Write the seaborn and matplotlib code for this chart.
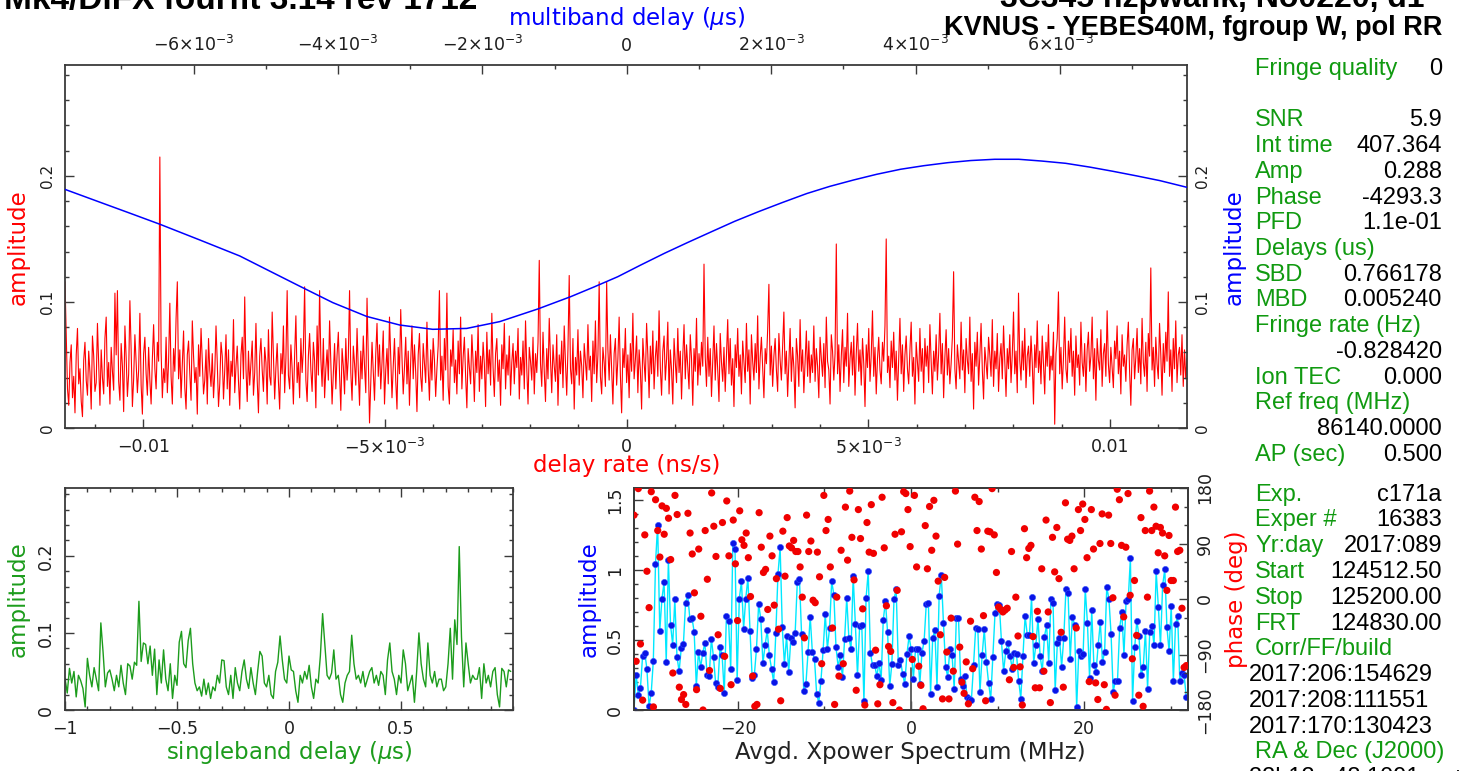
import numpy as np
import pandas as pd
import matplotlib
matplotlib.use("Agg")
import matplotlib.pyplot as plt
from matplotlib.ticker import MultipleLocator
import seaborn as sns

# ---------------- data ----------------
# delay-rate spectrum (red, top panel), evenly sampled over rate_lim (ns/s)
rate_lim = (-0.01162, 0.01159)
rate_amp = [
    .116, .072, .031, .018, .052, .066, .024, .041, .012, .058, .079, .035, .047, .021, .009, .054, .068, .038, .026, .061, .044, .015, .073, .057, .029, .036, .083, .049, .018, .062,
    .040, .027, .071, .088, .033, .052, .019, .064, .045, .030, .107, .058, .109, .037, .022, .067, .049, .013, .081, .056, .025, .043, .101, .062, .017, .039, .074, .052, .028, .046,
    .091, .034, .011, .059, .072, .043, .026, .064, .038, .019, .055, .082, .047, .031, .068, .053, .215, .061, .024, .047, .036, .072, .028, .053, .099, .041, .019, .063, .045, .087,
    .116, .039, .062, .024, .051, .077, .032, .015, .058, .069, .043, .022, .085, .057, .036, .048, .011, .066, .041, .079, .054, .027, .038, .062, .019, .071, .046, .033, .059, .024,
    .044, .081, .052, .017, .035, .068, .057, .023, .046, .074, .031, .062, .018, .053, .041, .086, .028, .049, .065, .037, .015, .058, .072, .039, .104, .047, .021, .061, .034, .052,
    .069, .026, .044, .083, .038, .012, .057, .071, .046, .029, .064, .052, .019, .078, .041, .034, .092, .056, .023, .048, .067, .037, .015, .059, .043, .081, .028, .055, .109, .042,
    .031, .066, .047, .019, .058, .089, .036, .052, .024, .071, .044, .063, .112, .038, .021, .057, .075, .046, .029, .068, .053, .016, .081, .042, .109, .055, .033, .071, .024, .047,
    .062, .038, .085, .053, .019, .044, .067, .031, .058, .076, .042, .014, .063, .049, .027, .071, .038, .056, .109, .044, .022, .065, .051, .034, .079, .046, .018, .061, .039, .073,
    .049, .028, .103, .056, .004, .037, .068, .045, .022, .059, .083, .041, .066, .031, .052, .077, .019, .046, .063, .035, .088, .057, .024, .049, .071, .038, .015, .064, .043, .094,
    .056, .027, .048, .072, .035, .061, .018, .053, .081, .039, .066, .044, .013, .058, .075, .041, .029, .067, .051, .036, .084, .047, .022, .062, .038, .071, .054, .025, .047, .065,
    .109, .038, .057, .022, .071, .046, .107, .033, .019, .062, .049, .078, .036, .054, .027, .069, .043, .088, .031, .056, .072, .041, .016, .063, .048, .035, .074, .052, .021, .061,
    .044, .082, .029, .057, .039, .068, .051, .017, .076, .043, .062, .034, .091, .048, .025, .059, .071, .037, .054, .018, .066, .047, .083, .031, .058, .042, .073, .026, .052, .067,
    .035, .061, .048, .079, .023, .056, .042, .069, .031, .085, .047, .019, .064, .053, .038, .072, .027, .059, .044, .068, .133, .051, .033, .076, .045, .021, .063, .039, .087, .054,
    .028, .066, .049, .037, .074, .018, .058, .043, .069, .032, .081, .052, .026, .063, .121, .047, .035, .071, .015, .056, .042, .078, .034, .061, .049, .024, .067, .053, .038, .082,
    .046, .057, .021, .069, .043, .085, .036, .058, .116, .041, .027, .064, .052, .033, .116, .062, .038, .074, .047, .019, .059, .071, .034, .055, .088, .042, .012, .063, .048, .079,
    .036, .058, .024, .067, .045, .091, .039, .054, .073, .028, .062, .046, .015, .071, .052, .037, .083, .058, .024, .065, .043, .077, .031, .056, .069, .041, .093, .048, .026, .061,
    .073, .038, .055, .084, .027, .062, .046, .019, .071, .052, .036, .079, .044, .061, .023, .057, .082, .039, .066, .048, .031, .074, .055, .018, .063, .045, .087, .034, .059, .042,
    .068, .049, .130, .056, .033, .072, .041, .063, .025, .054, .081, .038, .067, .046, .021, .075, .052, .037, .064, .029, .058, .086, .043, .071, .034, .055, .017, .066, .048, .079,
    .041, .058, .027, .069, .052, .036, .083, .045, .062, .019, .074, .053, .038, .067, .044, .089, .031, .056, .072, .047, .024, .063, .051, .078, .114, .042, .065, .033, .057, .071,
    .046, .029, .075, .054, .038, .066, .092, .043, .061, .025, .052, .079, .037, .064, .048, .016, .071, .057, .033, .086, .045, .062, .028, .053, .077, .041, .069, .036, .058, .044,
    .081, .037, .063, .049, .024, .072, .055, .041, .067, .032, .088, .053, .046, .019, .074, .061, .038, .059, .146, .043, .066, .029, .057, .078, .036, .064, .049, .091, .033, .055,
    .068, .042, .073, .026, .059, .083, .045, .062, .034, .071, .051, .017, .066, .048, .079, .037, .058, .093, .041, .064, .027, .055, .072, .046, .035, .068, .053, .081, .150, .044,
    .057, .032, .069, .048, .076, .038, .061, .022, .054, .087, .043, .066, .029, .058, .073, .047, .035, .062, .084, .041, .056, .019, .068, .052, .037, .079, .045, .063, .028, .071,
    .049, .065, .036, .082, .053, .027, .061, .045, .074, .038, .059, .091, .043, .067, .024, .056, .078, .042, .063, .035, .051, .072, .124, .047, .031, .066, .053, .039, .084, .046,
    .062, .028, .071, .054, .043, .088, .037, .059, .015, .068, .049, .076, .034, .057, .083, .046, .023, .064, .052, .039, .072, .058, .041, .086, .033, .061, .047, .075, .029, .055,
    .067, .039, .081, .052, .025, .063, .047, .074, .036, .058, .092, .043, .061, .028, .107, .054, .038, .069, .046, .079, .032, .057, .065, .041, .073, .052, .019, .066, .048, .085,
    .044, .061, .035, .073, .051, .027, .068, .049, .082, .038, .057, .046, .076, .003, .059, .071, .108, .043, .064, .031, .055, .088, .047, .036, .069, .052, .079, .041, .061, .026,
    .073, .048, .058, .034, .084, .052, .041, .067, .029, .062, .076, .045, .057, .088, .039, .063, .022, .071, .054, .046, .078, .033, .059, .067, .041, .093, .051, .036, .064, .048,
    .032, .069, .055, .081, .043, .061, .027, .074, .049, .058, .037, .066, .084, .045, .018, .062, .071, .039, .056, .079, .044, .063, .035, .087, .052, .041, .068, .029, .075, .057,
    .127, .046, .064, .033, .072, .051, .039, .083, .058, .026, .067, .044, .076, .053, .108, .041, .062, .029, .071, .047, .085, .036, .058, .064, .042, .074, .033, .062, .039, .055,
]

# multiband delay function (blue, top panel): delay in microseconds, amplitude
mbd_lim = (-0.00778, 0.00776)
mbd_us = [-0.007784, -0.007299, -0.006884, -0.006468, -0.005914, -0.005360, -0.004945,
          -0.004529, -0.004072, -0.003601, -0.003144, -0.002687, -0.002216, -0.001759,
          -0.001233, -0.000776, -0.000457, -0.000125, 0.000194, 0.000526, 0.000845,
          0.001177, 0.001496, 0.001828, 0.002161, 0.002493, 0.002812, 0.003144,
          0.003463, 0.003795, 0.004114, 0.004446, 0.004765, 0.005097, 0.005429,
          0.005748, 0.006080, 0.006413, 0.006731, 0.007064, 0.007382, 0.007756]
mbd_amp = [0.1894, 0.1792, 0.1705, 0.1617, 0.1492, 0.1365, 0.1245,
           0.1125, 0.0995, 0.0885, 0.0817, 0.0783, 0.0790, 0.0844,
           0.0944, 0.1042, 0.1118, 0.1200, 0.1293, 0.1387, 0.1472,
           0.1558, 0.1640, 0.1717, 0.1790, 0.1860, 0.1917, 0.1968,
           0.2013, 0.2053, 0.2081, 0.2105, 0.2122, 0.2132, 0.2132,
           0.2118, 0.2100, 0.2070, 0.2037, 0.2000, 0.1963, 0.1910]

# singleband delay function (green), evenly sampled over sbd_lim (microseconds)
sbd_lim = (-1.0, 0.99)
sbd_amp = [
    .041, .022, .054, .035, .050, .017, .045, .038, .028, .004, .067, .045, .030, .055, .040, .025, .113, .075, .030, .048,
    .052, .040, .025, .045, .030, .058, .035, .020, .060, .057, .040, .062, .058, .141, .063, .087, .085, .060, .083, .045,
    .079, .020, .065, .035, .078, .040, .025, .060, .015, .045, .032, .088, .102, .060, .055, .090, .106, .060, .035, .025,
    .030, .018, .040, .020, .035, .015, .030, .025, .045, .035, .065, .064, .030, .020, .045, .015, .055, .035, .025, .050,
    .065, .040, .028, .055, .035, .020, .050, .076, .070, .035, .030, .045, .020, .015, .050, .062, .096, .065, .040, .035,
    .070, .052, .050, .025, .010, .045, .035, .050, .040, .058, .030, .015, .040, .035, .070, .125, .085, .045, .040, .048,
    .078, .040, .045, .020, .010, .035, .045, .050, .097, .060, .040, .045, .035, .050, .030, .040, .050, .055, .035, .045,
    .032, .050, .045, .020, .065, .087, .050, .040, .020, .045, .035, .078, .060, .025, .035, .045, .010, .050, .100, .060,
    .040, .030, .087, .045, .035, .050, .030, .040, .040, .025, .030, .060, .106, .040, .117, .085, .212, .095, .030, .087,
    .060, .035, .045, .040, .040, .055, .015, .060, .035, .045, .030, .050, .055, .020, .004, .054, .050, .030, .052, .050,
]

# averaged cross-power spectrum, evenly sampled over freq_lim (MHz)
freq_lim = (-32.0, 31.8)
xp_amp = [
    0.0, .252, .109, .157, .386, .41, .295, .029, .119, .352,
    1.045, 1.324, .566, .795, .914, .343, 1.069, .609, .467, .79,
    .381, .276, .443, .474, .767, .819, .652, .657, .557, .171,
    .414, .307, .41, .479, .252, .24, .51, .376, .19, .164,
    .448, .39, .124, .671, .638, .29, 1.195, 1.152, .214, .795,
    .919, .581, .795, .943, .562, .229, .248, .438, .757, .652,
    .333, .462, .569, .39, .295, .2, .55, .971, 1.162, .59,
    .329, .529, .271, .514, .486, .552, .914, .933, .543, .133,
    .186, .414, .667,
    .414, .362, .114, .052, .21, .426, .686, .438, .586, .919,
    .824, .45, .307, .39, .233, .505, .8, .514, .438, .955,
    .617, .248, .6, .605, .062, .8, .99, .41, .319, .324,
    .24, .338, .214, .643, .776, .557, .171, .331, .793, .862,
    .324, .36, .257, .186, .398, .526, .433, .224, .433, .433,
    .186, .41, .49, .755, .767, .117, .514, .571, .167, .817,
    .967, .624, .307, .238, .438, .395, .152, .657, .657, .224,
    .171, .24, .095, .076, .069, .319, .586, .581, .129, .39,
    .576, .343, .195, .076, .376, .69, .757, .752,
    .49, .276, .419, .481, .386, .295, .405, .4, .21, .081,
    .386, .671, .538, .533, .805, .338, .462, .652, .386, .276,
    .524, .605, .338, .79, .767, .14, .476, .514, .31, .514,
    .862, .833, .367, .667, .61, .019, .424, .386, .4, .862,
    .624, .229, .714, .324, .271, .462, .629, .343, .414, .876,
    .795, .543, .129, .21, .21, .586, .7, .395, .776, .79,
    1.086, .062, .448, .638, .529, .248, .31, .567, .152, .557,
    .6, .462, .99, .738, .462, .89, 1.005, .591, .419, .743,
    .205, .614, .671, .205, .262, .248, .095,
]
xp_phase = [
    136, -101, 179, -73, -164, 104, 45, -14, 174, -175,
    161, 111, 68, 151, 105, 147, 131, 64, -120, 168,
    137, -143, -163, -155, -171, 139, 107, 73, 10, -147,
    81, -28, -180, 111, 32, -116, 172, 118, 69, -58,
    -145, 124, -93, 159, 70, -139, 128, 57, -35, 143,
    96, 87, 107, 67, 4, -125, -174, -171, 140, 84,
    43, 48, -17, 102, 70, -10, 33, -49, -165, 110,
    37, 132, 86, 83, 95, 77, 77, 52, 3, -63,
    136, 77, 94, -2,
    -6, 76, 36, -105, 168, 111, 129, 52, -47, -171,
    3, -125, 79, -105, 149, 63, 175, 100, 31, -148,
    145, 98, -16, -172, 124, 76, 153, 74, -83, -170,
    -139, 165, 83, -11, -77, -85, -168, 105, 14, -180,
    109, 174, 171, 145, 85, -98, 168, 52, -109, -140,
    -178, 119, 49, 150, 79, 160, 102, 29, -58, -162,
    35, -86, -162, -31, -117, 175, 89, -78, -135, -153,
    -102, -170, -36, -113, 165, 111, 158, 81, -27, -165,
    110, 109, 179, 104, 43,
    -13, -17, -21, -18, -15, -131, 77, -111, 3, -60,
    -110, -172, 114, 67, 82, 87, -61, -144, -20, -144,
    49, -117, 128, -21, -168, 100, 44, 116, 33, -54,
    -143, 156, 97, 95, 102, 49, -47, 145, 111, 154,
    129, 67, -134, 145, 81, -136, -163, 90, 138, -139,
    -179, 136, 90, 2, -156, 178, 161, 87, -29, 84,
    171, 6, -97, 30, -59, -156, 132, -174, 111, 3,
    175, 111, 149, 118, 75, 116, 107, 70, 14, 103,
    30, 30, 149, 77, 79, -15, -111, -108,
]

# tick labels
rate_ticks = [-0.01, -0.005, 0.0, 0.005, 0.01]
rate_ticklabels = ['\u22120.01', r'$-5{\times}10^{-3}$', '0', r'$5{\times}10^{-3}$', '0.01']
mbd_ticks = [-0.006, -0.004, -0.002, 0.0, 0.002, 0.004, 0.006]
mbd_ticklabels = [r'$-6{\times}10^{-3}$', r'$-4{\times}10^{-3}$', r'$-2{\times}10^{-3}$', '0',
                  r'$2{\times}10^{-3}$', r'$4{\times}10^{-3}$', r'$6{\times}10^{-3}$']
amp_ticks = [0.0, 0.1, 0.2]
amp_ticklabels = ['0', '0.1', '0.2']
sbd_ticks = [-1.0, -0.5, 0.0, 0.5]
sbd_ticklabels = ['\u22121', '\u22120.5', '0', '0.5']
freq_ticks = [-20, 0, 20]
freq_ticklabels = ['\u221220', '0', '20']
xpamp_ticks = [0, 0.5, 1.0, 1.5]
xpamp_ticklabels = ['0', '0.5', '1', '1.5']
phase_ticks = [-180, -90, 0, 90, 180]
phase_ticklabels = ['\u2212180', '\u221290', '0', '90', '180']

# side panel text
info_top = [("Fringe quality", "0"), ("", ""), ("SNR", "5.9"), ("Int time", "407.364"),
            ("Amp", "0.288"), ("Phase", "-4293.3"), ("PFD", "1.1e-01"), ("Delays (us)", ""),
            ("SBD", "0.766178"), ("MBD", "0.005240"), ("Fringe rate (Hz)", ""), ("", "-0.828420"),
            ("Ion TEC", "0.000"), ("Ref freq (MHz)", ""), ("", "86140.0000"), ("AP (sec)", "0.500")]
info_bottom = [("Exp.", "c171a"), ("Exper #", "16383"), ("Yr:day", "2017:089"),
               ("Start", "124512.50"), ("Stop", "125200.00"), ("FRT", "124830.00"),
               ("Corr/FF/build", "")]
info_dates = ["2017:206:154629", "2017:208:111551", "2017:170:130423"]
info_radec = ["RA & Dec (J2000)"]
title_left = "Mk4/DiFX fourfit 3.14 rev 1712"
title_right1 = "3C345 hzpwank, No0220, d1"
title_right2 = "KVNUS - YEBES40M, fgroup W, pol RR"

# ---------------- style ----------------
sns.set_theme(style="white")
plt.rcParams['font.family'] = ['DejaVu Sans']
plt.rcParams['mathtext.fontset'] = 'dejavusans'

W, H = 1462, 771
fig = plt.figure(figsize=(W / 100, H / 100), dpi=100)
fig.patch.set_facecolor('white')

RED, BLUE, GREEN, CYAN = '#ff0000', '#0000ff', '#1c9c1c', '#00e8ff'
TXTGREEN = '#109a10'
FRAME = '#3a3a3a'
TICKTXT = '#1e1e1e'


def rect(l, t, r, b):
    return [l / W, 1 - b / H, (r - l) / W, (b - t) / H]


def fx(px):
    return px / W


def fy(py):
    return 1 - py / H


def style_frame(ax):
    for s in ax.spines.values():
        s.set_visible(True)
        s.set_color(FRAME)
        s.set_linewidth(1.3)


def style_ticks(ax, **kw):
    ax.tick_params(which='both', direction='in', color=FRAME, width=1.0,
                   labelcolor=TICKTXT, **kw)
    ax.tick_params(which='major', length=6.5)
    ax.tick_params(which='minor', length=3.2)


# ---------------- top panel: delay rate / multiband delay ----------------
ax_r = fig.add_axes(rect(65, 65, 1187, 428))
rate_x = np.linspace(rate_lim[0], rate_lim[1], len(rate_amp))
df_rate = pd.DataFrame({'rate': rate_x, 'amp': rate_amp})
sns.lineplot(data=df_rate, x='rate', y='amp', ax=ax_r, color=RED, linewidth=0.8,
             estimator=None, sort=False)
ax_r.set_xlim(*rate_lim)
ax_r.set_ylim(0, 0.288)
ax_r.set_xticks(rate_ticks, labels=rate_ticklabels, fontsize=12.5)
ax_r.xaxis.set_minor_locator(MultipleLocator(0.001))
ax_r.set_yticks(amp_ticks, labels=amp_ticklabels, rotation=90, va='center', fontsize=11)
ax_r.yaxis.set_minor_locator(MultipleLocator(0.02))
style_frame(ax_r)
style_ticks(ax_r, top=False, right=False, bottom=True, left=True)
ax_r.tick_params(axis='x', pad=7)
ax_r.tick_params(axis='y', pad=7)
ax_r.set_xlabel('')
ax_r.set_ylabel('')

ax_m = fig.add_axes(rect(65, 65, 1187, 428), frameon=False)
df_mbd = pd.DataFrame({'mbd': mbd_us, 'amp': mbd_amp})
sns.lineplot(data=df_mbd, x='mbd', y='amp', ax=ax_m, color=BLUE, linewidth=1.1,
             estimator=None, sort=False)
ax_m.set_xlim(*mbd_lim)
ax_m.set_ylim(0, 0.288)
ax_m.xaxis.set_ticks_position('top')
ax_m.yaxis.set_ticks_position('right')
ax_m.set_xticks(mbd_ticks, labels=mbd_ticklabels, fontsize=12.5)
ax_m.xaxis.set_minor_locator(MultipleLocator(0.001))
ax_m.set_yticks(amp_ticks, labels=amp_ticklabels, rotation=90, va='center', fontsize=11)
ax_m.yaxis.set_minor_locator(MultipleLocator(0.02))
style_ticks(ax_m, top=True, bottom=False, right=True, left=False,
            labeltop=True, labelbottom=False, labelright=True, labelleft=False)
ax_m.tick_params(axis='x', pad=7)
ax_m.tick_params(axis='y', pad=6)
ax_m.set_xlabel('')
ax_m.set_ylabel('')

fig.text(fx(627), fy(18), r'multiband delay ($\mu$s)', color=BLUE, fontsize=16.5,
         ha='center', va='center')
fig.text(fx(627), fy(466), 'delay rate (ns/s)', color=RED, fontsize=16.5,
         ha='center', va='center')
fig.text(fx(18), fy(247), 'amplitude', color=RED, fontsize=16.5, rotation=90,
         ha='center', va='center')
fig.text(fx(1234), fy(247), 'amplitude', color=BLUE, fontsize=16.5, rotation=90,
         ha='center', va='center')

# ---------------- bottom-left: singleband delay ----------------
ax_s = fig.add_axes(rect(65, 488, 513, 710))
sbd_x = np.linspace(sbd_lim[0], sbd_lim[1], len(sbd_amp))
df_sbd = pd.DataFrame({'sbd': sbd_x, 'amp': sbd_amp})
sns.lineplot(data=df_sbd, x='sbd', y='amp', ax=ax_s, color=GREEN, linewidth=1.0,
             estimator=None, sort=False)
ax_s.set_xlim(-1.0, 1.0)
ax_s.set_ylim(0, 0.288)
ax_s.set_xticks(sbd_ticks, labels=sbd_ticklabels, fontsize=12.5)
ax_s.xaxis.set_minor_locator(MultipleLocator(0.1))
ax_s.set_yticks(amp_ticks, labels=amp_ticklabels, rotation=90, va='center', fontsize=12.5)
ax_s.yaxis.set_minor_locator(MultipleLocator(0.02))
style_frame(ax_s)
style_ticks(ax_s, top=True, right=True, bottom=True, left=True)
ax_s.tick_params(axis='x', pad=7)
ax_s.tick_params(axis='y', pad=7)
ax_s.set_xlabel('')
ax_s.set_ylabel('')
fig.text(fx(18), fy(599), 'amplitude', color=GREEN, fontsize=16.5, rotation=90,
         ha='center', va='center')
fig.text(fx(289), fy(753), r'singleband delay ($\mu$s)', color=GREEN, fontsize=16.5,
         ha='center', va='center')

# ---------------- bottom-right: cross-power spectrum ----------------
ax_a = fig.add_axes(rect(634, 488, 1188, 710))
fr_x = np.linspace(freq_lim[0], freq_lim[1], len(xp_amp))
df_xa = pd.DataFrame({'f': fr_x, 'amp': xp_amp})
sns.lineplot(data=df_xa, x='f', y='amp', ax=ax_a, color=CYAN, linewidth=1.0,
             estimator=None, sort=False, zorder=2)
sns.scatterplot(data=df_xa, x='f', y='amp', ax=ax_a, color='#0a14e6', s=20,
                edgecolor='#3050ff', linewidth=0.4, zorder=3)
ax_a.axvline(0, ymin=0, ymax=0.19, color='#555555', linewidth=1.3, zorder=1)
ax_a.set_xlim(-32, 32)
ax_a.set_ylim(0, 1.586)
ax_a.set_xticks(freq_ticks, labels=freq_ticklabels, fontsize=12.5)
ax_a.xaxis.set_minor_locator(MultipleLocator(10))
ax_a.set_yticks(xpamp_ticks, labels=xpamp_ticklabels, rotation=90, va='center', fontsize=12.5)
ax_a.yaxis.set_minor_locator(MultipleLocator(0.1))
style_frame(ax_a)
ax_a.set_xlabel('')
ax_a.set_ylabel('')

ax_p = ax_a.twinx()
ph_x = np.linspace(freq_lim[0], freq_lim[1], len(xp_phase))
df_xp = pd.DataFrame({'f': ph_x, 'phase': xp_phase})
sns.scatterplot(data=df_xp, x='f', y='phase', ax=ax_p, color='#f00000', s=27,
                edgecolor='none', linewidth=0, zorder=4)
ax_p.set_ylim(-180, 180)
ax_p.set_yticks(phase_ticks, labels=phase_ticklabels, rotation=90, va='center', fontsize=12.5)
ax_p.yaxis.set_minor_locator(MultipleLocator(30))
ax_p.set_ylabel('')
style_frame(ax_p)
style_ticks(ax_a, top=True, bottom=True, left=True, right=False)
ax_a.tick_params(axis='x', pad=7)
ax_a.tick_params(axis='y', pad=7)
style_ticks(ax_p, right=True, left=False)
ax_p.tick_params(axis='y', pad=6)

fig.text(fx(589), fy(599), 'amplitude', color=BLUE, fontsize=16.5, rotation=90,
         ha='center', va='center')
fig.text(fx(1237), fy(599), 'phase (deg)', color=RED, fontsize=16.5, rotation=90,
         ha='center', va='center')
fig.text(fx(910), fy(753), 'Avgd. Xpower Spectrum (MHz)', color='#222222', fontsize=16.5,
         ha='center', va='center')

# ---------------- headers ----------------
fig.text(fx(477), fy(9), title_left, fontsize=24, fontweight='bold',
         family='Liberation Sans', ha='right', va='baseline', color='black')
fig.text(fx(1424), fy(7), title_right1, fontsize=23, fontweight='bold',
         family='Liberation Sans', ha='right', va='baseline', color='black')
fig.text(fx(1442), fy(35), title_right2, fontsize=19.5, fontweight='bold',
         family='Liberation Sans', ha='right', va='baseline', color='black')

# ---------------- side panel ----------------
SIDE_FS = 17
LX, RX = 1255, 1442
for i, (lab, val) in enumerate(info_top):
    yb = 75 + i * 25.71
    if lab:
        fig.text(fx(LX), fy(yb), lab, color=TXTGREEN, fontsize=SIDE_FS,
                 family='Liberation Sans', ha='left', va='baseline')
    if val:
        fig.text(fx(RX), fy(yb), val, color='black', fontsize=SIDE_FS,
                 family='Liberation Sans', ha='right', va='baseline')
row = 0
for lab, val in info_bottom:
    yb = 500.7 + row * 25.76
    fig.text(fx(LX), fy(yb), lab, color=TXTGREEN, fontsize=SIDE_FS,
             family='Liberation Sans', ha='left', va='baseline')
    if val:
        fig.text(fx(RX), fy(yb), val, color='black', fontsize=SIDE_FS,
                 family='Liberation Sans', ha='right', va='baseline')
    row += 1
for d in info_dates:
    yb = 500.7 + row * 25.76
    fig.text(fx(1249), fy(yb), d, color='black', fontsize=SIDE_FS,
             family='Liberation Sans', ha='left', va='baseline')
    row += 1
for t in info_radec:
    yb = 500.7 + row * 25.76
    fig.text(fx(LX), fy(yb), t, color=TXTGREEN, fontsize=SIDE_FS,
             family='Liberation Sans', ha='left', va='baseline')
    row += 1
fig.text(fx(1249), fy(500.7 + row * 25.76), "22h12m48.1091s   +42d12m", color='black',
         fontsize=SIDE_FS, family='Liberation Sans', ha='left', va='baseline')

fig.savefig('out.png', dpi=100, facecolor='white')
